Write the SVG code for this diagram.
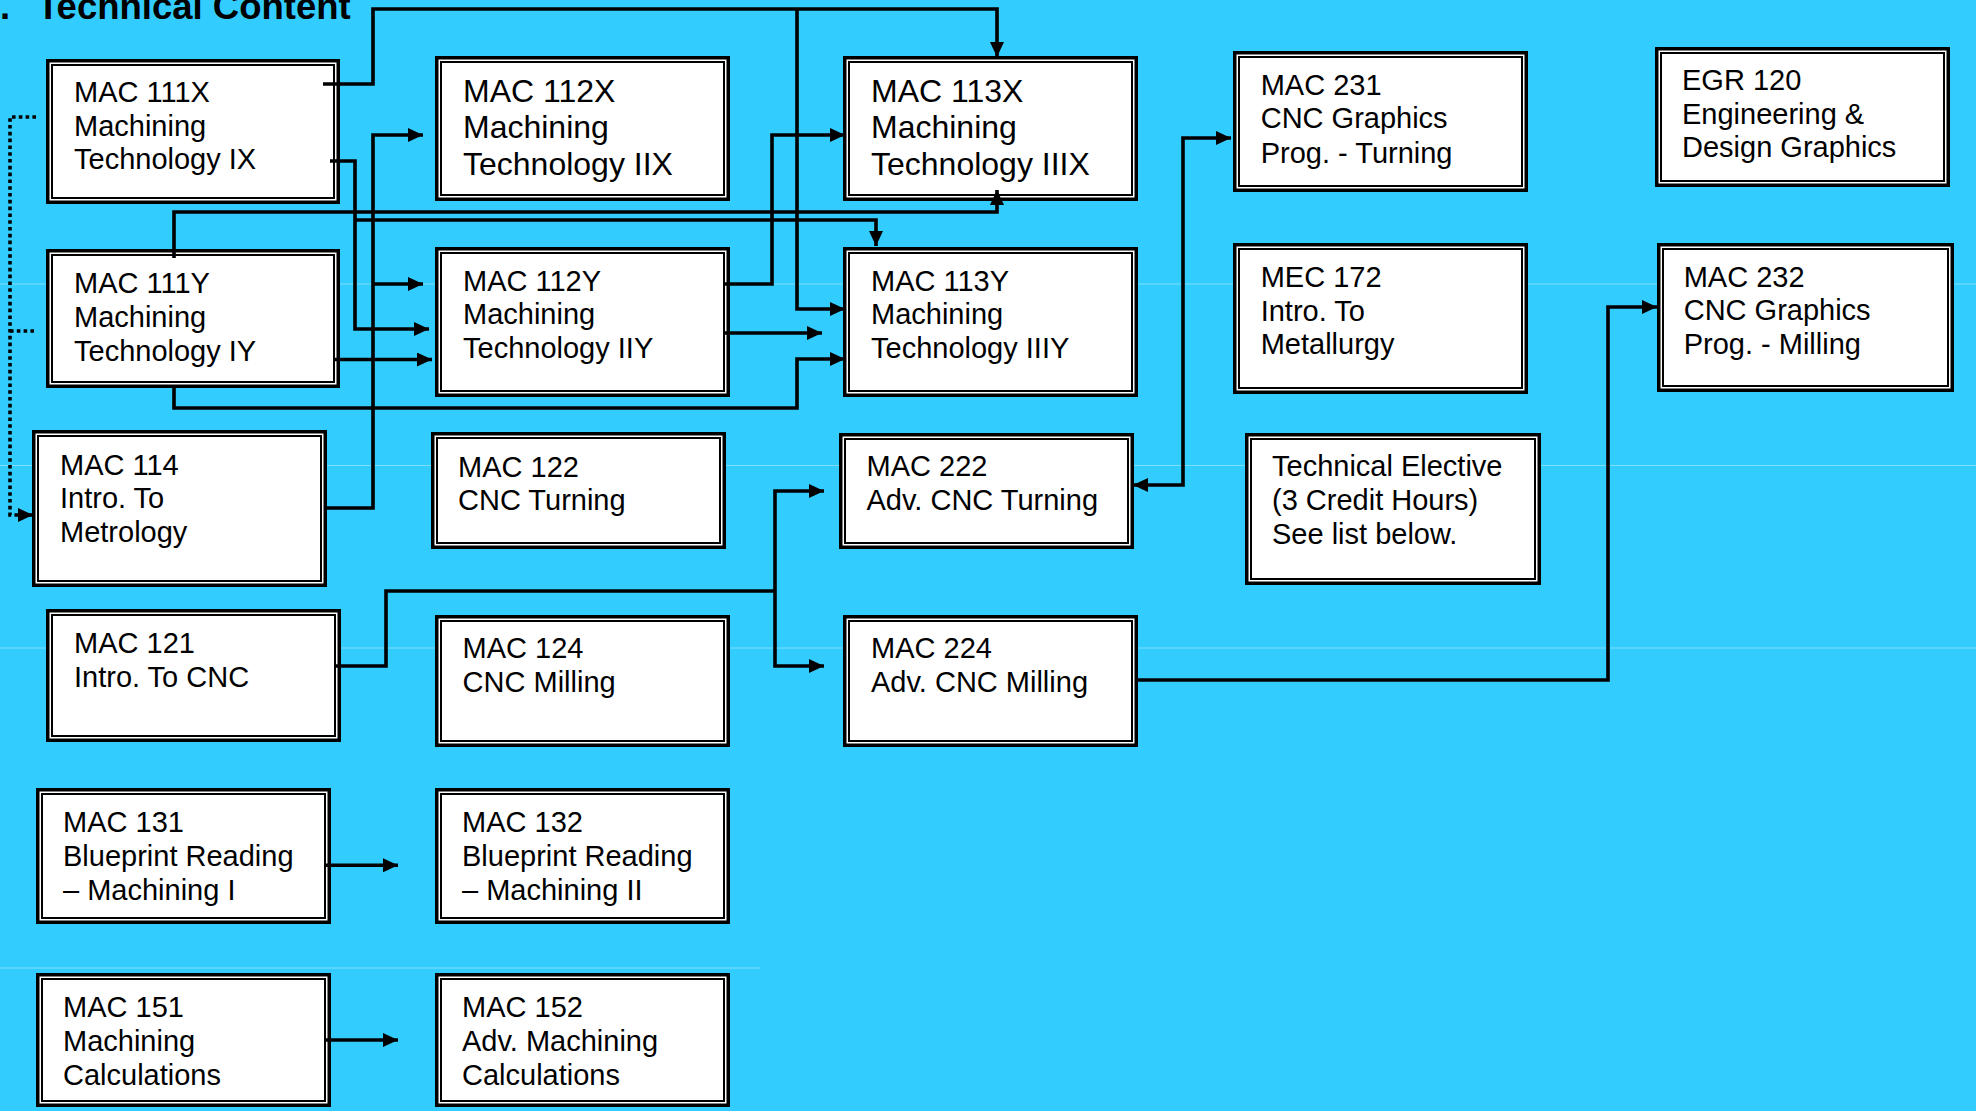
<svg xmlns="http://www.w3.org/2000/svg" width="1976" height="1111" viewBox="0 0 1976 1111">
<style>
.o{fill:#fff;stroke:#000;stroke-width:3.5}
.i{fill:none;stroke:#000;stroke-width:2}
.t{font-family:"Liberation Sans",Arial,sans-serif;font-size:29px;fill:#000}
.big{font-size:32px}
.c{fill:none;stroke:#000;stroke-width:3.6;stroke-linejoin:miter}
.d{fill:none;stroke:#000;stroke-width:3.6;stroke-dasharray:3.6 3.2}
.f{stroke:#7fdfff;stroke-width:1}
.ttl{font-family:"Liberation Sans",Arial,sans-serif;font-size:36.5px;font-weight:bold;fill:#000}
</style>
<defs>
<marker id="ah" viewBox="0 0 15 14" refX="15" refY="7" markerWidth="15" markerHeight="14" markerUnits="userSpaceOnUse" orient="auto-start-reverse">
<path d="M0,0 L15,7 L0,14 z" fill="#000"/>
</marker>
</defs>
<rect x="0" y="0" width="1976" height="1111" fill="#33ccff"/>
<g id="faint">
<line class="f" x1="0" y1="284" x2="1976" y2="284"/>
<line class="f" x1="0" y1="465.5" x2="1976" y2="465.5"/>
<line class="f" x1="0" y1="648" x2="1976" y2="648"/>
<line class="f" x1="0" y1="968" x2="760" y2="968"/>
</g>
<text class="ttl" y="19"><tspan x="0">.</tspan><tspan x="37">Technical Content</tspan></text>

<g id="n111X"><rect class="o" x="47.75" y="60.75" width="290.5" height="141.5"/><rect class="i" x="52" y="65" width="282" height="133"/>
<text class="t" x="74" y="101.7">MAC 111X</text><text class="t" x="74" y="135.5">Machining</text><text class="t" x="74" y="169.3">Technology IX</text></g>
<g id="n111Y"><rect class="o" x="47.75" y="250.75" width="290.5" height="135.5"/><rect class="i" x="52" y="255" width="282" height="127"/>
<text class="t" x="74" y="293.3">MAC 111Y</text><text class="t" x="74" y="327">Machining</text><text class="t" x="74" y="360.5">Technology IY</text></g>
<g id="n114"><rect class="o" x="33.75" y="431.75" width="291.5" height="153.5"/><rect class="i" x="38" y="436" width="283" height="145"/>
<text class="t" x="60" y="475">MAC 114</text><text class="t" x="60" y="508">Intro. To</text><text class="t" x="60" y="541.5">Metrology</text></g>
<g id="n121"><rect class="o" x="47.75" y="610.75" width="291.5" height="129.5"/><rect class="i" x="52" y="615" width="283" height="121"/>
<text class="t" x="74" y="653.3">MAC 121</text><text class="t" x="74" y="686.5">Intro. To CNC</text></g>
<g id="n131"><rect class="o" x="37.75" y="789.75" width="291.5" height="132.5"/><rect class="i" x="42" y="794" width="283" height="124"/>
<text class="t" x="63" y="832.3">MAC 131</text><text class="t" x="63" y="866.3">Blueprint Reading</text><text class="t" x="63" y="900">– Machining I</text></g>
<g id="n151"><rect class="o" x="37.75" y="974.75" width="291.5" height="130.5"/><rect class="i" x="42" y="979" width="283" height="122"/>
<text class="t" x="63" y="1017.3">MAC 151</text><text class="t" x="63" y="1051.3">Machining</text><text class="t" x="63" y="1085">Calculations</text></g>

<g id="n112X"><rect class="o" x="436.75" y="57.75" width="291.5" height="141.5"/><rect class="i" x="441" y="62" width="283" height="133"/>
<text class="t big" x="463" y="101.7">MAC 112X</text><text class="t big" x="463" y="138.3">Machining</text><text class="t big" x="463" y="175">Technology IIX</text></g>
<g id="n112Y"><rect class="o" x="436.75" y="248.75" width="291.5" height="146.5"/><rect class="i" x="441" y="253" width="283" height="138"/>
<text class="t" x="463" y="290.7">MAC 112Y</text><text class="t" x="463" y="324.3">Machining</text><text class="t" x="463" y="358">Technology IIY</text></g>
<g id="n122"><rect class="o" x="432.75" y="433.75" width="291.5" height="113.5"/><rect class="i" x="437" y="438" width="283" height="105"/>
<text class="t" x="458" y="476.7">MAC 122</text><text class="t" x="458" y="510">CNC Turning</text></g>
<g id="n124"><rect class="o" x="436.75" y="616.75" width="291.5" height="128.5"/><rect class="i" x="441" y="621" width="283" height="120"/>
<text class="t" x="462.6" y="658.3">MAC 124</text><text class="t" x="462.6" y="691.7">CNC Milling</text></g>
<g id="n132"><rect class="o" x="436.75" y="789.75" width="291.5" height="132.5"/><rect class="i" x="441" y="794" width="283" height="124"/>
<text class="t" x="462" y="832.3">MAC 132</text><text class="t" x="462" y="866.3">Blueprint Reading</text><text class="t" x="462" y="900">– Machining II</text></g>
<g id="n152"><rect class="o" x="436.75" y="974.75" width="291.5" height="130.5"/><rect class="i" x="441" y="979" width="283" height="122"/>
<text class="t" x="462" y="1017.3">MAC 152</text><text class="t" x="462" y="1051.3">Adv. Machining</text><text class="t" x="462" y="1085">Calculations</text></g>

<g id="n113X"><rect class="o" x="844.75" y="57.75" width="291.5" height="141.5"/><rect class="i" x="849" y="62" width="283" height="133"/>
<text class="t big" x="871" y="101.7">MAC 113X</text><text class="t big" x="871" y="138.3">Machining</text><text class="t big" x="871" y="175">Technology IIIX</text></g>
<g id="n113Y"><rect class="o" x="844.75" y="248.75" width="291.5" height="146.5"/><rect class="i" x="849" y="253" width="283" height="138"/>
<text class="t" x="871" y="290.7">MAC 113Y</text><text class="t" x="871" y="324.3">Machining</text><text class="t" x="871" y="358">Technology IIIY</text></g>
<g id="n222"><rect class="o" x="840.75" y="434.75" width="291.5" height="112.5"/><rect class="i" x="845" y="439" width="283" height="104"/>
<text class="t" x="866.5" y="476">MAC 222</text><text class="t" x="866.5" y="510">Adv. CNC Turning</text></g>
<g id="n224"><rect class="o" x="844.75" y="616.75" width="291.5" height="128.5"/><rect class="i" x="849" y="621" width="283" height="120"/>
<text class="t" x="871" y="658.3">MAC 224</text><text class="t" x="871" y="692">Adv. CNC Milling</text></g>

<g id="n231"><rect class="o" x="1234.75" y="52.75" width="291.5" height="137.5"/><rect class="i" x="1239" y="57" width="283" height="129"/>
<text class="t" x="1260.7" y="95">MAC 231</text><text class="t" x="1260.7" y="128.3">CNC Graphics</text><text class="t" x="1260.7" y="162.7">Prog. - Turning</text></g>
<g id="n172"><rect class="o" x="1234.75" y="244.75" width="291.5" height="147.5"/><rect class="i" x="1239" y="249" width="283" height="139"/>
<text class="t" x="1260.7" y="286.7">MEC 172</text><text class="t" x="1260.7" y="320.7">Intro. To</text><text class="t" x="1260.7" y="354">Metallurgy</text></g>
<g id="nTE"><rect class="o" x="1246.75" y="434.75" width="292.5" height="148.5"/><rect class="i" x="1251" y="439" width="284" height="140"/>
<text class="t" x="1272" y="476">Technical Elective</text><text class="t" x="1272" y="510">(3 Credit Hours)</text><text class="t" x="1272" y="544">See list below.</text></g>
<g id="n120"><rect class="o" x="1656.75" y="48.75" width="291.5" height="136.5"/><rect class="i" x="1661" y="53" width="283" height="128"/>
<text class="t" x="1682" y="90">EGR 120</text><text class="t" x="1682" y="123.7">Engineering &amp;</text><text class="t" x="1682" y="157">Design Graphics</text></g>
<g id="n232"><rect class="o" x="1658.75" y="244.75" width="293.5" height="145.5"/><rect class="i" x="1663" y="249" width="285" height="137"/>
<text class="t" x="1683.7" y="286.7">MAC 232</text><text class="t" x="1683.7" y="320.3">CNC Graphics</text><text class="t" x="1683.7" y="354.3">Prog. - Milling</text></g>

<g id="connectors">
<path class="c" d="M323,84 H373 V9 H997 V57" marker-end="url(#ah)"/>
<path class="c" d="M797,9 V309 H845" marker-end="url(#ah)"/>
<path class="c" d="M325,508 H373 V135 H423" marker-end="url(#ah)"/>
<path class="c" d="M373,284 H423" marker-end="url(#ah)"/>
<path class="c" d="M330,161 H355 V329 H429" marker-end="url(#ah)"/>
<path class="c" d="M355,220 H876 V246" marker-end="url(#ah)"/>
<path class="c" d="M174,258 V212 H997 V190" marker-end="url(#ah)"/>
<path class="c" d="M334,359.5 H432" marker-end="url(#ah)"/>
<path class="c" d="M174,385 V408 H797 V359 H845" marker-end="url(#ah)"/>
<path class="c" d="M724,284 H772 V135 H845" marker-end="url(#ah)"/>
<path class="c" d="M723,333 H822" marker-end="url(#ah)"/>
<path class="c" d="M336,666 H386 V591 H775"/>
<path class="c" d="M824,491 H775 V666 H824" marker-start="url(#ah)" marker-end="url(#ah)"/>
<path class="c" d="M1133,485 H1183 V138 H1231" marker-start="url(#ah)" marker-end="url(#ah)"/>
<path class="c" d="M1135,680 H1608 V307 H1657" marker-end="url(#ah)"/>
<path class="c" d="M325,865.3 H398" marker-end="url(#ah)"/>
<path class="c" d="M325,1040 H398" marker-end="url(#ah)"/>
<path class="d" d="M36,117 H10 V515 H20"/>
<path class="c" d="M18,515 H33" marker-end="url(#ah)"/>
<path class="d" d="M10,331 H37"/>
</g>
</svg>
